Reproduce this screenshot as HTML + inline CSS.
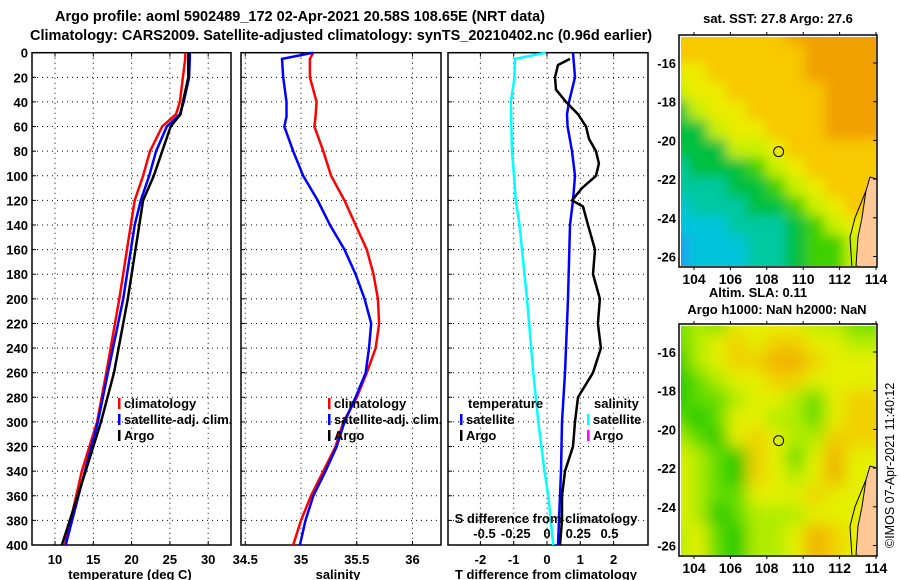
<!DOCTYPE html>
<html><head><meta charset="utf-8">
<style>
html,body{margin:0;padding:0;background:#fff;}
svg{display:block;font-family:"Liberation Sans",Arial,sans-serif;font-weight:bold;}
text{fill:#000;}
</style></head>
<body>
<svg id="fig" width="900" height="580" viewBox="0 0 900 580" xmlns="http://www.w3.org/2000/svg">
<defs>
<filter id="blur1" x="0" y="0" width="1" height="1"><feGaussianBlur stdDeviation="6"/></filter>
<filter id="blur2" x="0" y="0" width="1" height="1"><feGaussianBlur stdDeviation="8"/></filter>
<clipPath id="clipM1"><rect x="681" y="37" width="195" height="229"/></clipPath>
<clipPath id="clipM2"><rect x="681" y="326" width="195" height="229"/></clipPath>
</defs>
<text x="55" y="21" font-size="14.5">Argo profile: aoml 5902489_172 02-Apr-2021 20.58S 108.65E (NRT data)</text>
<text x="30" y="40" font-size="14.5">Climatology: CARS2009. Satellite-adjusted climatology: synTS_20210402.nc (0.96d earlier)</text>
<g id="p1"></g>
<g id="p2"></g>
<g id="p3"></g>
<g id="m1"></g>
<g id="m2"></g>
<text x="778" y="23" font-size="13" text-anchor="middle">sat. SST: 27.8 Argo: 27.6</text>
<text x="758" y="297" font-size="13" text-anchor="middle">Altim. SLA: 0.11</text>
<text x="777" y="314" font-size="13" text-anchor="middle">Argo h1000: NaN h2000: NaN</text>
<text transform="translate(894,548) rotate(-90)" font-size="12.5" font-weight="normal">©IMOS 07-Apr-2021 11:40:12</text>
</svg>
<script>
// ---- data ----
const depths = [0,5,20,40,50,60,80,100,120,140,200,260,300,340,400];
const tempClim = [27.0,27.0,26.7,26.3,25.8,24.0,22.4,21.5,20.4,19.9,18.4,16.7,15.5,13.5,11.3];
const tempSat  = [27.6,27.6,27.5,26.8,26.3,24.6,23.2,22.3,21.2,20.4,18.9,16.9,15.6,13.9,11.4];
const tempArgo = [27.4,27.4,27.4,26.7,26.4,25.1,24.0,22.9,21.5,21.0,19.5,17.7,16.0,14.0,10.9];
const salDepths = [0,5,20,40,52,60,80,100,120,140,160,180,200,220,240,260,280,300,320,340,360,380,400];
const salClim = [35.11,35.08,35.08,35.14,35.13,35.12,35.20,35.27,35.39,35.49,35.59,35.65,35.69,35.70,35.67,35.59,35.50,35.38,35.31,35.20,35.09,35.00,34.93];
const salSat  = [35.11,34.83,34.84,34.87,34.87,34.85,34.93,35.02,35.15,35.26,35.39,35.49,35.57,35.63,35.61,35.58,35.49,35.39,35.32,35.22,35.11,35.04,34.99];
const diffDepthsA = [5,10,20,30,40,50,60,70,80,90,100,110,120,125,140,160,180,200,220,240,260,280,300,320,340,360,380,400];
const tDiffArgo = [0.69,0.33,0.24,0.27,0.57,0.93,1.17,1.26,1.47,1.56,1.47,1.05,0.75,1.08,1.23,1.44,1.38,1.59,1.53,1.62,1.38,0.93,0.84,0.78,0.54,0.45,0.45,0.39];
const diffDepthsS = [0,20,40,50,60,80,100,120,140,200,260,300,340,400];
const tDiffSat = [0.78,0.84,0.66,0.60,0.62,0.75,0.84,0.78,0.69,0.63,0.54,0.45,0.42,0.33];
const diffDepthsC = [0,5,20,40,80,100,120,140,200,260,300,340,360,400];
const sDiffSat = [-0.01,-0.256,-0.26,-0.29,-0.28,-0.264,-0.25,-0.22,-0.16,-0.11,-0.07,-0.02,0.01,0.05];
const depthTicks = [0,20,40,60,80,100,120,140,160,180,200,220,240,260,280,300,320,340,360,380,400];
const tempTicks = [10,15,20,25,30];
const salTicks = [34.5,35,35.5,36];
const tdTicks = [-2,-1,0,1,2];
const sdTicks = [-0.5,-0.25,0,0.25,0.5];
const sdTickLabels = ["-0.5","-0.25","0","0.25","0.5"];
const latTicks = [-16,-18,-20,-22,-24,-26];
const lonTicks = [104,106,108,110,112,114];
const sstGrid = ["7777778888","7777777888","6677777888","5667777788","3566777788","3356677788","3335567777","2333456777","2223345677","1222334567","1112223456","0111223445"];
const slaGrid = ["1213333221","1234344332","0234455433","0123344333","0112332134","1013322134","2103432244","3210431353","3210432353","3211333433","3201222333","2310223543"];
const sstColors = ["#1e9cf0","#00c4dc","#00c8a0","#00c040","#40d000","#c8f000","#ecec00","#f8c800","#f0a000"];
const slaColors = ["#00c800","#60dc00","#b0ec00","#e4f000","#f0d000","#f0b000"];

const NS="http://www.w3.org/2000/svg";
function mk(parent,tag,attrs){const e=document.createElementNS(NS,tag);for(const k in attrs)e.setAttribute(k,attrs[k]);parent.appendChild(e);return e;}
const yTop=52.7, yBot=545;
const yD = d => yTop + d*(yBot-yTop)/400;
const xT = t => 55 + (t-10)*7.66;
const xS = s => 301 + (s-35)*111.5;
const xTD = t => 547 + t*33.3;
const xSD = s => 547 + s*125;

function frame(g,x0,x1,xticks,xf,labels,ylabels){
  depthTicks.forEach(d=>{
    const l=mk(g,'line',{x1:x0,x2:x1,y1:yD(d),y2:yD(d),stroke:'#000','stroke-width':1,'stroke-dasharray':'1,4'});
    
    
    mk(g,'line',{x1:x0,x2:x0+4,y1:yD(d),y2:yD(d),stroke:'#000'});
    if(ylabels){const t=mk(g,'text',{x:28,y:yD(d)+5,'text-anchor':'end','font-size':13});t.textContent=d;
      
      }
  });
  xticks.forEach((v,i)=>{const x=xf(v);
    const l=mk(g,'line',{x1:x,x2:x,y1:yTop,y2:yBot,stroke:'#000','stroke-width':1,'stroke-dasharray':'1,4'});
    
    
    mk(g,'line',{x1:x,x2:x,y1:yBot,y2:yBot-4,stroke:'#000'});
    mk(g,'line',{x1:x,x2:x,y1:yTop,y2:yTop+4,stroke:'#000'});
    const t=mk(g,'text',{x:x,y:564,'text-anchor':'middle','font-size':13});t.textContent=labels?labels[i]:v;
    
    
  });
  const r=mk(g,'rect',{x:x0,y:yTop,width:x1-x0,height:yBot-yTop,fill:'none',stroke:'#000','stroke-width':1.5});
  
  
}
function line(g,xs,ds,xf,col,name){
  const pts=xs.map((v,i)=>xf(v).toFixed(1)+','+yD(ds[i]).toFixed(1)).join(' ');
  const p=mk(g,'polyline',{points:pts,fill:'none',stroke:col,'stroke-width':2.5});
  
  
}
function legend(g,x,y,col,label,name){
  mk(g,'rect',{x:x,y:y-10,width:2.5,height:11,fill:col});
  const t=mk(g,'text',{x:x+6,y:y,'font-size':13});t.textContent=label;
  
  
}
function txt(g,x,y,s,anchor,name,fs){const t=mk(g,'text',{x:x,y:y,'text-anchor':anchor||'start','font-size':fs||13});t.textContent=s;
  
  return t;}

// panel 1
const p1=document.getElementById('p1');
frame(p1,32,231,tempTicks,xT,null,true);
line(p1,tempClim,depths,xT,'#ff0000','temp-climatology-line');
line(p1,tempSat,depths,xT,'#0000ff','temp-satellite-line');
line(p1,tempArgo,depths,xT,'#000000','temp-argo-line');
legend(p1,118,408,'#ff0000','climatology','legend-climatology');
legend(p1,118,424,'#0000ff','satellite-adj. clim.','legend-satellite');
legend(p1,118,440,'#000000','Argo','legend-argo');
txt(p1,130,579,'temperature (deg C)','middle','x-axis-title-temperature');

// panel 2
const p2=document.getElementById('p2');
frame(p2,241,441,salTicks,xS,null,false);
line(p2,salClim,salDepths,xS,'#ff0000','sal-climatology-line');
line(p2,salSat,salDepths,xS,'#0000ff','sal-satellite-line');
legend(p2,328,408,'#ff0000','climatology','legend-climatology');
legend(p2,328,424,'#0000ff','satellite-adj. clim.','legend-satellite');
legend(p2,328,440,'#000000','Argo','legend-argo');
txt(p2,338,579,'salinity','middle','x-axis-title-salinity');

// panel 3
const p3=document.getElementById('p3');
frame(p3,448,648,tdTicks,xTD,null,false);
line(p3,sDiffSat,diffDepthsC,xSD,'#00ffff','sal-diff-satellite-line');
line(p3,tDiffSat,diffDepthsS,xTD,'#0000ff','temp-diff-satellite-line');
line(p3,tDiffArgo,diffDepthsA,xTD,'#000000','temp-diff-argo-line');
sdTicks.forEach((v,i)=>{txt(p3,xSD(v),538,sdTickLabels[i],'middle','s-diff-tick-label');});
txt(p3,546,523,'S difference from climatology','middle','s-diff-axis-title');
txt(p3,468,408,'temperature','start','legend-temperature-header');
legend(p3,460,424,'#0000ff','satellite','legend-temp-satellite');
legend(p3,460,440,'#000000','Argo','legend-temp-argo');
txt(p3,594,408,'salinity','start','legend-salinity-header');
legend(p3,587,424,'#00ffff','satellite','legend-sal-satellite');
legend(p3,587,440,'#ff00ff','Argo','legend-sal-argo');
txt(p3,546,579,'T difference from climatology','middle','x-axis-title-t-diff');

// maps
const xLon = lon => 694 + (lon-104)*18.2;
function map(gid,y0,grid,colors,clip,filt,prefix){
  const g=document.getElementById(gid);
  const x0=679,x1=877,y1=y0+232;
  mk(g,'rect',{x:x0,y:y0,width:x1-x0,height:y1-y0,fill:'#fff'});
  const inner=mk(g,'g',{'clip-path':'url(#'+clip+')'});
  const cells=mk(inner,'g',{filter:'url(#'+filt+')'});
  const rows=grid.length, cols=grid[0].length;
  const cw=(x1-x0-2)/cols, ch=(y1-y0-2)/rows;
  grid.forEach((row,r)=>{[...row].forEach((c,k)=>{
    const e=mk(cells,'rect',{x:x0+1+k*cw-12,y:y0+1+r*ch-12,width:cw+24,height:ch+24,fill:colors[+c]});
    
    
  });});
  const yL = lat => y0+28 + (-16-lat)*19.35;
  const land=mk(inner,'polygon',{points:`877,${yL(-22)} 870,${yL(-21.9)} 866,${yL(-22.6)} 862,${yL(-24)} 858,${yL(-25)} 856,${yL(-26.5)} 877,${yL(-26.6)}`,fill:'#ffc896',stroke:'#000','stroke-width':1});
  
  
  mk(inner,'polyline',{points:`866,${yL(-22.6)} 855,${yL(-24)} 850,${yL(-25)} 852,${yL(-26.6)}`,fill:'none',stroke:'#000','stroke-width':1});
  const c=mk(g,'circle',{cx:xLon(108.65),cy:yL(-20.58),r:5,fill:'none',stroke:'#000','stroke-width':1});
  
  
  const fr=mk(g,'rect',{x:x0,y:y0,width:x1-x0,height:y1-y0,fill:'none',stroke:'#000','stroke-width':1.5});
  
  
  latTicks.forEach(l=>{const y=yL(l);
    mk(g,'line',{x1:x1,x2:x1-4,y1:y,y2:y,stroke:'#000'});
    txt(g,676,y+5,String(l),'end','lat-tick-label');
  });
  lonTicks.forEach(l=>{const x=xLon(l);
    mk(g,'line',{x1:x,x2:x,y1:y0,y2:y0-3,stroke:'#000'});
    mk(g,'line',{x1:x,x2:x,y1:y1,y2:y1+3,stroke:'#000'});
    txt(g,x,y1+17,String(l),'middle','lon-tick-label',14);
  });
}
map('m1',35,sstGrid,sstColors,'clipM1','blur1','sst');
map('m2',324,slaGrid,slaColors,'clipM2','blur2','sla');
</script>
</body></html>
